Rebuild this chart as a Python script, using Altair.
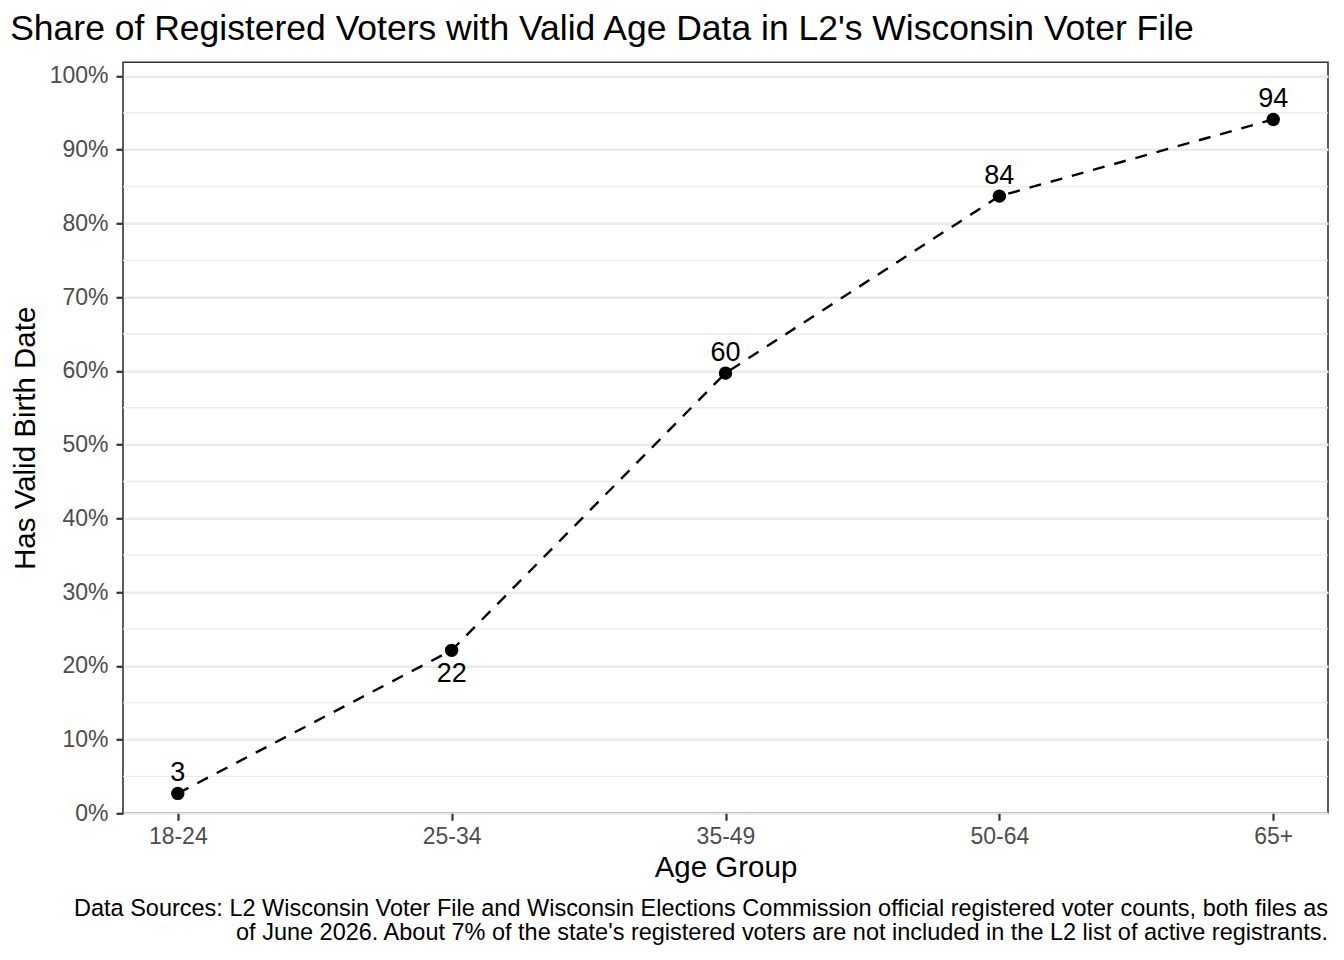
import altair as alt
import pandas as pd

# ---- data ----
age_groups = ["18-24", "25-34", "35-49", "50-64", "65+"]
share_valid = [0.027, 0.221, 0.597, 0.837, 0.941]
point_labels = ["3", "22", "60", "84", "94"]
label_below = [False, True, False, False, False]

y_tick_values = [0.0, 0.1, 0.2, 0.3, 0.4, 0.5, 0.6, 0.7, 0.8, 0.9, 1.0]
y_minor_values = [0.05, 0.15, 0.25, 0.35, 0.45, 0.55, 0.65, 0.75, 0.85, 0.95]

title_text = "Share of Registered Voters with Valid Age Data in L2's Wisconsin Voter File"
x_title = "Age Group"
y_title = "Has Valid Birth Date"
caption_lines = [
    "Data Sources: L2 Wisconsin Voter File and Wisconsin Elections Commission official registered voter counts, both files as",
    "of June 2026. About 7% of the state's registered voters are not included in the L2 list of active registrants.",
]

FONT = "Liberation Sans"
W, H = 1205, 751

df = pd.DataFrame({
    "age": age_groups,
    "share": share_valid,
    "label": point_labels,
    "below": label_below,
})
minor_df = pd.DataFrame({"share": y_minor_values})
cap_df = pd.DataFrame({"c": [0]})

y_scale = alt.Scale(domain=[0, 1.0185], nice=False, zero=True)
x_scale = alt.Scale(type="point", padding=0.2)

x_enc = alt.X(
    "age:N", sort=age_groups, scale=x_scale,
    axis=alt.Axis(title=x_title, labelAngle=0, labelPadding=5, titlePadding=5),
)
y_axis = alt.Axis(title=y_title, values=y_tick_values, format=".0%",
                  labelPadding=8, titlePadding=9)
y_enc = alt.Y("share:Q", scale=y_scale, axis=y_axis)

minor = alt.Chart(minor_df).mark_rule(color="#EBEBEB", strokeWidth=1.3).encode(
    y=y_enc,
    x=alt.value(0),
    x2=alt.value(W),
)

line = alt.Chart(df).mark_line(
    color="black", strokeWidth=2.4, strokeDash=[12, 10]
).encode(x=x_enc, y=y_enc)

points = alt.Chart(df).mark_circle(color="black", size=180, opacity=1).encode(
    x=x_enc, y=y_enc
)

labels_above = alt.Chart(df).transform_filter("!datum.below").mark_text(
    font=FONT, fontSize=27, color="black", baseline="alphabetic", dy=-12
).encode(x=x_enc, y=y_enc, text="label:N")

labels_under = alt.Chart(df).transform_filter("datum.below").mark_text(
    font=FONT, fontSize=27, color="black", baseline="alphabetic", dy=32
).encode(x=x_enc, y=y_enc, text="label:N")

caption = alt.Chart(cap_df).mark_text(
    font=FONT, fontSize=23.5, color="black", align="right",
    baseline="alphabetic", lineHeight=23.5,
).encode(
    x=alt.value(W),
    y=alt.value(853.8),
    text=alt.value(caption_lines),
)

chart = alt.layer(minor, line, points, labels_above, labels_under, caption).properties(
    width=W,
    height=H,
    background="white",
    title=alt.TitleParams(
        text=title_text, anchor="start", frame="bounds", fontSize=35.5,
        font=FONT, color="black", fontWeight="normal", offset=15,
    ),
    autosize=alt.AutoSizeParams(type="none"),
    padding={"left": 115, "top": 54.3, "right": 4, "bottom": 135},
).configure_view(
    stroke="#333333", strokeWidth=1.6, fill="white"
).configure_axis(
    labelFont=FONT, titleFont=FONT,
    labelFontSize=23, titleFontSize=29.5,
    labelColor="#4D4D4D", titleColor="black",
    titleFontWeight="normal",
    domain=False,
    tickColor="#333333", tickSize=7, tickWidth=2.2,
    gridColor="#EBEBEB", gridWidth=2.6,
)

chart.save("out.html", embed_options={"renderer": "svg", "actions": False})
